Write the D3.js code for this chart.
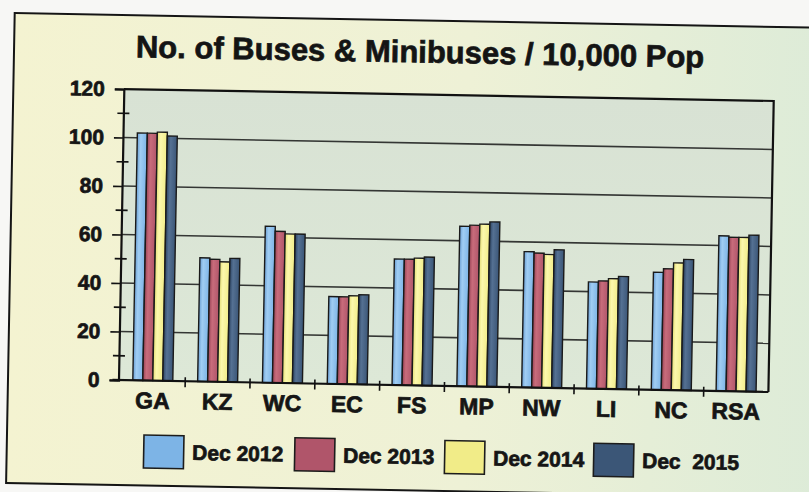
<!DOCTYPE html>
<html>
<head>
<meta charset="utf-8">
<script src="https://cdn.jsdelivr.net/npm/d3@7"></script>
<style>
  body { margin: 0; background: #f7f7f5; }
  svg { display: block; font-family: "Liberation Sans", Arial, sans-serif; font-weight: bold; }
  .heavy { stroke: #151515; stroke-width: 0.7px; paint-order: stroke; }
</style>
</head>
<body>
<div id="chart"></div>
<script>
// values
var categories = ["GA", "KZ", "WC", "EC", "FS", "MP", "NW", "LI", "NC", "RSA"];
var seriesNames = ["Dec 2012", "Dec 2013", "Dec 2014", "Dec  2015"];
var dec2012 = [102, 51, 64.5, 36, 52, 66, 56, 44, 48.5, 64];
var dec2013 = [102, 50.5, 62.5, 36, 52, 66.5, 55.5, 44.5, 50, 63.5];
var dec2014 = [102.5, 49.5, 61.5, 36.5, 52.5, 67, 55, 45.5, 52.5, 63.5];
var dec2015 = [101, 51, 61.5, 37, 53, 68, 57, 46.5, 54, 64.5];
var yTicks = [0, 20, 40, 60, 80, 100, 120];
var minorTicks = [10, 30, 50, 70, 90, 110];

var seriesValues = [dec2012, dec2013, dec2014, dec2015];
// [edge, highlight, base]
var barShades = [
  ["#6a9ed3", "#a0cdf3", "#7db4e6"],
  ["#9a4456", "#c86c7b", "#b0556a"],
  ["#e4de74", "#fcf8ad", "#f1ec88"],
  ["#2c4464", "#557193", "#3b5677"]
];

var W = 809, H = 492;
var margin = {top: 89, right: 40.5, bottom: 112, left: 118.5};
var width = W - margin.left - margin.right,
    height = H - margin.top - margin.bottom;

var rows = categories.map(function(c, i) {
  return {cat: c, vals: seriesValues.map(function(s, j) { return {s: j, v: s[i]}; })};
});

var svg = d3.select("#chart").append("svg")
    .attr("width", W).attr("height", H);

var defs = svg.append("defs");
var bg = defs.append("linearGradient").attr("id", "bgGrad")
    .attr("x1", "0%").attr("y1", "0%").attr("x2", "100%").attr("y2", "0%");
bg.append("stop").attr("offset", "0%").attr("stop-color", "#f4f3d1");
bg.append("stop").attr("offset", "55%").attr("stop-color", "#eef1d6");
bg.append("stop").attr("offset", "100%").attr("stop-color", "#dcebd8");

var pg = defs.append("linearGradient").attr("id", "plotGrad")
    .attr("x1", "0%").attr("y1", "0%").attr("x2", "0%").attr("y2", "100%");
pg.append("stop").attr("offset", "0%").attr("stop-color", "#d8e2d4");
pg.append("stop").attr("offset", "100%").attr("stop-color", "#dde8d7");

barShades.forEach(function(c, i) {
  var lg = defs.append("linearGradient").attr("id", "bar" + i)
      .attr("x1", "0%").attr("y1", "0%").attr("x2", "100%").attr("y2", "0%");
  lg.append("stop").attr("offset", "0%").attr("stop-color", c[0]);
  lg.append("stop").attr("offset", "35%").attr("stop-color", c[1]);
  lg.append("stop").attr("offset", "100%").attr("stop-color", c[2]);
});

// the scan is tilted a little clockwise
var root = svg.append("g").attr("transform", "rotate(1.05," + margin.left + "," + (margin.top + height) + ")");

root.append("rect")
    .attr("x", 8).attr("y", 15).attr("width", 830).attr("height", 470)
    .attr("fill", "url(#bgGrad)").attr("stroke", "#151515").attr("stroke-width", 2);

root.append("text")
    .attr("class", "heavy")
    .attr("x", 414).attr("y", 57)
    .attr("text-anchor", "middle")
    .attr("font-size", 31).attr("fill", "#141414")
    .text("No. of Buses & Minibuses / 10,000 Pop");

var g = root.append("g").attr("transform", "translate(" + margin.left + "," + margin.top + ")");

var x0 = d3.scaleBand().domain(categories).range([2, width]).paddingInner(0.383).paddingOuter(0.19);
var x1 = d3.scaleBand().domain(d3.range(seriesNames.length)).range([0, x0.bandwidth()]);
var y = d3.scaleLinear().domain([0, 120]).range([height, 0]);

g.append("rect").attr("width", width).attr("height", height).attr("fill", "url(#plotGrad)");

g.append("g").selectAll("line")
    .data(yTicks.filter(function(d) { return d > 0 && d < 120; }))
    .enter().append("line")
    .attr("x1", 0).attr("x2", width)
    .attr("y1", function(d) { return y(d); }).attr("y2", function(d) { return y(d); })
    .attr("stroke", "#343634").attr("stroke-width", 1.6);

var groups = g.append("g").selectAll("g")
    .data(rows)
    .enter().append("g")
    .attr("transform", function(d) { return "translate(" + x0(d.cat) + ",0)"; });

groups.selectAll("rect")
    .data(function(d) { return d.vals; })
    .enter().append("rect")
    .attr("x", function(d) { return x1(d.s); })
    .attr("y", function(d) { return y(d.v); })
    .attr("width", x1.bandwidth())
    .attr("height", function(d) { return y(0) - y(d.v); })
    .attr("fill", function(d) { return "url(#bar" + d.s + ")"; })
    .attr("stroke", "#1a1a1a").attr("stroke-width", 1.4);

// top and right border of the plot
g.append("path")
    .attr("d", "M0,0H" + width + "V" + height)
    .attr("fill", "none").attr("stroke", "#111").attr("stroke-width", 2.2);

var yAxis = g.append("g")
    .call(d3.axisLeft(y).tickValues(yTicks).tickSize(9).tickPadding(10));
yAxis.attr("font-family", null).attr("font-size", 21);
yAxis.select(".domain").attr("stroke", "#111").attr("stroke-width", 2.2);
yAxis.selectAll(".tick line").attr("stroke", "#111").attr("stroke-width", 1.6);
yAxis.selectAll(".tick text").attr("fill", "#151515").attr("class", "heavy");

g.append("g").selectAll("line")
    .data(minorTicks)
    .enter().append("line")
    .attr("x1", -6).attr("x2", 6)
    .attr("y1", function(d) { return y(d); }).attr("y2", function(d) { return y(d); })
    .attr("stroke", "#111").attr("stroke-width", 1.6);

var xAxis = g.append("g").attr("transform", "translate(0," + height + ")");
xAxis.append("line").attr("x1", -6).attr("x2", width)
    .attr("stroke", "#111").attr("stroke-width", 2.2);
var gap = (x0.step() - x0.bandwidth()) / 2;
xAxis.selectAll(".xt")
    .data(categories.slice(1))
    .enter().append("line")
    .attr("class", "xt")
    .attr("x1", function(d) { return x0(d) - gap; }).attr("x2", function(d) { return x0(d) - gap; })
    .attr("y1", -4).attr("y2", 6)
    .attr("stroke", "#111").attr("stroke-width", 1.6);
xAxis.selectAll(".xl")
    .data(categories)
    .enter().append("text")
    .attr("class", "xl heavy")
    .attr("x", function(d) { return x0(d) + x0.bandwidth() / 2; })
    .attr("y", 28)
    .attr("text-anchor", "middle")
    .attr("font-size", 23).attr("fill", "#151515")
    .text(function(d) { return d; });

// legend
var legendX = [165, 316, 466, 615];
var legend = root.append("g").attr("transform", "translate(0,451)");
var items = legend.selectAll("g")
    .data(seriesNames)
    .enter().append("g")
    .attr("transform", function(d, i) { return "translate(" + legendX[i] + ",0)"; });
items.append("rect")
    .attr("x", -20).attr("y", -16.5).attr("width", 40).attr("height", 33)
    .attr("fill", function(d, i) { return barShades[i][2]; })
    .attr("stroke", "#1c1c1c").attr("stroke-width", 1.6);
items.append("text")
    .attr("class", "heavy")
    .attr("x", 28.5).attr("y", 7.5)
    .attr("font-size", 21).attr("fill", "#151515")
    .style("white-space", "pre")
    .text(function(d) { return d; });
</script>
</body>
</html>
